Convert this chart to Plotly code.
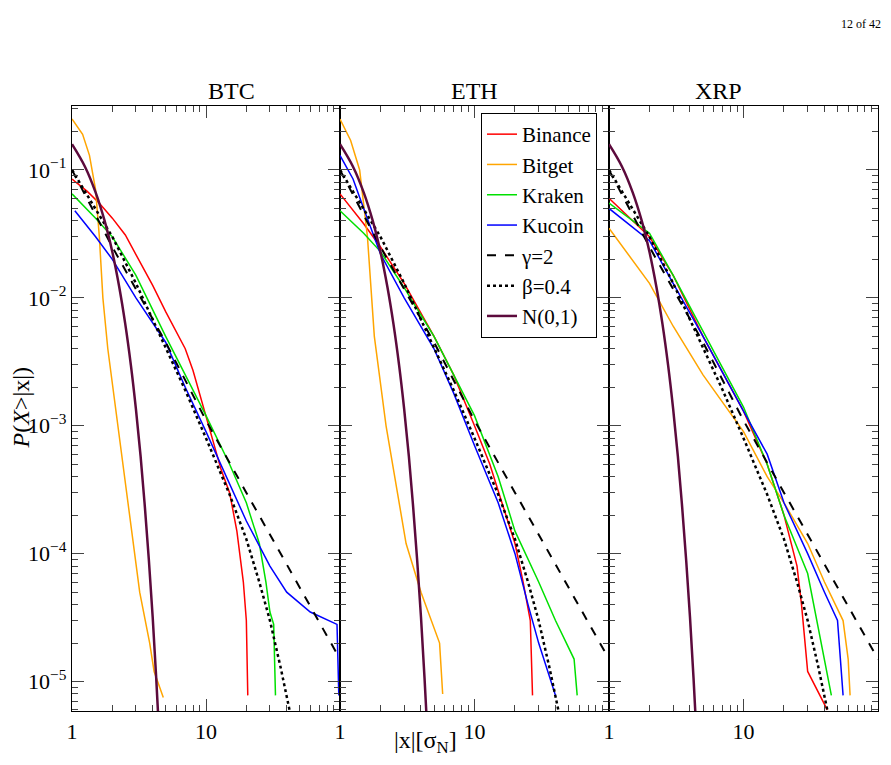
import plotly.graph_objects as go

# ---- data ----
norm_x = [1, 1.25, 1.5, 1.75, 2, 2.25, 2.5, 2.75, 3, 3.25, 3.5, 3.75, 4, 4.25, 4.5]
norm_y = [0.159, 0.106, 0.0668, 0.0401, 0.0228, 0.0122, 0.0062, 0.00298, 0.00135, 5.8e-4, 2.3e-4, 8.8e-5, 3.2e-5, 1.07e-5, 3.4e-6]
gam_x = [1, 2, 5, 10, 20, 50, 100]
gam_y = [0.1, 0.025, 0.0045, 0.0011, 3e-4, 5.5e-5, 1.5e-5]
beta_x = [1, 1.5, 2, 3, 5, 7, 10, 15, 20, 25, 30, 36, 42]
beta_y = [0.1, 0.05, 0.03, 0.013, 0.004, 0.0019, 8e-4, 2.9e-4, 1.3e-4, 6e-5, 3e-5, 1.3e-5, 6e-6]

btc_binance_x = [1, 1.3, 1.6, 2, 2.5, 3, 4, 5, 6, 7, 8, 10, 12, 13, 15, 17, 19, 20, 20.5]
btc_binance_y = [0.085, 0.068, 0.055, 0.042, 0.031, 0.022, 0.0125, 0.0078, 0.0054, 0.004, 0.0027, 0.0012, 6e-4, 4.5e-4, 3e-4, 1.5e-4, 6e-5, 3e-5, 7.8e-6]
btc_bitget_x = [1, 1.2, 1.35, 1.5, 1.6, 1.7, 1.85, 2.2, 2.7, 3.2, 3.8, 4.1, 4.8]
btc_bitget_y = [0.25, 0.19, 0.13, 0.07, 0.03, 0.01, 0.004, 1e-3, 2e-4, 5e-5, 2e-5, 1.2e-5, 7.5e-6]
btc_kraken_x = [1, 1.5, 2, 3, 5, 7, 10, 15, 20, 25, 28, 30, 32, 33]
btc_kraken_y = [0.065, 0.042, 0.03, 0.015, 0.005, 0.0025, 0.0012, 5e-4, 2.5e-4, 1.2e-4, 6e-5, 3.5e-5, 2.8e-5, 7.8e-6]
btc_kucoin_x = [1.05, 1.5, 2, 3, 5, 7, 10, 15, 20, 30, 40, 60, 95, 98]
btc_kucoin_y = [0.048, 0.03, 0.02, 0.01, 0.0045, 0.002, 9e-4, 3.5e-4, 1.8e-4, 8e-5, 5e-5, 3.5e-5, 2.8e-5, 7.8e-6]

eth_binance_x = [1, 1.5, 2, 3, 5, 7, 10, 13, 16, 20, 23, 26, 27]
eth_binance_y = [0.065, 0.038, 0.025, 0.013, 0.005, 0.0025, 0.001, 5e-4, 2.5e-4, 1.2e-4, 6e-5, 3e-5, 7.8e-6]
eth_bitget_x = [1, 1.2, 1.4, 1.6, 1.8, 2.2, 3.1, 4, 5.5, 5.8]
eth_bitget_y = [0.25, 0.17, 0.1, 0.03, 0.005, 1e-3, 1.2e-4, 5e-5, 2e-5, 8e-6]
eth_kraken_x = [1, 1.5, 2, 3, 5, 7, 10, 15, 20, 30, 40, 55, 58]
eth_kraken_y = [0.048, 0.032, 0.023, 0.012, 0.005, 0.0025, 0.0012, 4e-4, 1.5e-4, 6e-5, 3e-5, 1.5e-5, 7.8e-6]
eth_kucoin_x = [1, 1.25, 1.5, 2, 3, 5, 7, 10, 15, 20, 25, 30, 40]
eth_kucoin_y = [0.13, 0.085, 0.05, 0.022, 0.01, 0.004, 0.0018, 7e-4, 2.5e-4, 1e-4, 4e-5, 2e-5, 7.8e-6]

xrp_binance_x = [1, 2, 3, 5, 10, 15, 20, 25, 27, 30, 42]
xrp_binance_y = [0.06, 0.03, 0.015, 0.005, 0.0013, 5e-4, 2e-4, 8e-5, 4e-5, 1.2e-5, 6e-6]
xrp_bitget_x = [1, 2, 3, 5, 10, 15, 20, 30, 40, 55, 60, 62]
xrp_bitget_y = [0.035, 0.013, 0.006, 0.0025, 9e-4, 4e-4, 2.5e-4, 1.2e-4, 6e-5, 3e-5, 1.5e-5, 7.8e-6]
xrp_kraken_x = [1, 2, 3, 5, 10, 15, 20, 30, 35, 40, 45]
xrp_kraken_y = [0.055, 0.032, 0.015, 0.0055, 0.0014, 5e-4, 2e-4, 7e-5, 3e-5, 1.5e-5, 7.8e-6]
xrp_kucoin_x = [1, 2, 3, 5, 10, 15, 20, 30, 40, 50, 55]
xrp_kucoin_y = [0.05, 0.028, 0.013, 0.005, 0.0013, 6e-4, 2.5e-4, 1e-4, 5e-5, 3e-5, 7.8e-6]

titles = ["BTC", "ETH", "XRP"]
ytick_vals = [1e-1, 1e-2, 1e-3, 1e-4, 1e-5]
ytick_text = ["10<sup>−1</sup>", "10<sup>−2</sup>", "10<sup>−3</sup>", "10<sup>−4</sup>", "10<sup>−5</sup>"]
y_minor = [m * 10.0**e for e in range(-6, 0) for m in range(2, 10)]
x_minor = [2, 3, 4, 5, 6, 7, 8, 9, 20, 30, 40, 50, 60, 70, 80, 90]

panels = [
    (btc_binance_x, btc_binance_y, btc_bitget_x, btc_bitget_y, btc_kraken_x, btc_kraken_y, btc_kucoin_x, btc_kucoin_y),
    (eth_binance_x, eth_binance_y, eth_bitget_x, eth_bitget_y, eth_kraken_x, eth_kraken_y, eth_kucoin_x, eth_kucoin_y),
    (xrp_binance_x, xrp_binance_y, xrp_bitget_x, xrp_bitget_y, xrp_kraken_x, xrp_kraken_y, xrp_kucoin_x, xrp_kucoin_y),
]

FONT = "Liberation Serif"
L, R, T, B = 72, 13, 106, 54
PW, PH = 891 - L - R, 765 - T - B
def px(x): return (x - L) / PW
def py(y): return 1 - (y - T) / PH

fig = go.Figure()
doms = [(0, px(340)), (px(340), px(609)), (px(609), 1)]

for i, p in enumerate(panels):
    xa = "x" if i == 0 else f"x{i+1}"
    ya = "y" if i == 0 else f"y{i+1}"
    sl = (i == 1)
    series = [
        ("Binance", p[0], p[1], dict(color="red", width=1.5)),
        ("Bitget", p[2], p[3], dict(color="orange", width=1.5)),
        ("Kraken", p[4], p[5], dict(color="#00e000", width=1.5)),
        ("Kucoin", p[6], p[7], dict(color="blue", width=1.5)),
        ("γ=2", gam_x, gam_y, dict(color="black", width=2, dash="dash")),
        ("β=0.4", beta_x, beta_y, dict(color="black", width=2.5, dash="dot")),
        ("N(0,1)", norm_x, norm_y, dict(color="#5c0a3c", width=2.5, shape="spline")),
    ]
    for name, x, y, ln in series:
        fig.add_trace(go.Scatter(x=x, y=y, mode="lines", name=name, line=ln,
                                 showlegend=sl, xaxis=xa, yaxis=ya))
    axkey = "xaxis" if i == 0 else f"xaxis{i+1}"
    aykey = "yaxis" if i == 0 else f"yaxis{i+1}"
    fig.layout[axkey] = dict(type="log", range=[0, 2], domain=doms[i], anchor=ya, automargin=False,
                             tickvals=[1, 10], ticktext=["1", "10"], ticks="inside", ticklen=12,
                             mirror="allticks", showline=True, linecolor="black", linewidth=1.2,
                             showgrid=False, zeroline=False,
                             minor=dict(ticks="inside", ticklen=6, tickvals=x_minor, showgrid=False),
                             tickfont=dict(family=FONT, size=22, color="black"))
    fig.layout[aykey] = dict(type="log", range=[-5.23, -0.5], domain=[0, 1], anchor=xa, automargin=False,
                             tickvals=ytick_vals, ticktext=ytick_text if i == 0 else [""]*5,
                             ticks="inside", ticklen=12, mirror="allticks", showline=True,
                             linecolor="black", linewidth=1.2, showgrid=False, zeroline=False,
                             minor=dict(ticks="inside", ticklen=6, tickvals=y_minor, showgrid=False),
                             tickfont=dict(family=FONT, size=22, color="black"))
    fig.add_annotation(text=titles[i], x=(doms[i][0]+doms[i][1])/2, y=1, xref="paper", yref="paper",
                       yanchor="bottom", showarrow=False, font=dict(family=FONT, size=24, color="black"))

fig.update_layout(
    width=891, height=765, margin=dict(l=L, r=R, t=T, b=B),
    paper_bgcolor="white", plot_bgcolor="white",
    legend=dict(x=px(597), xanchor="right", y=py(113), yanchor="top",
                bordercolor="black", borderwidth=1, bgcolor="white",
                font=dict(family=FONT, size=21, color="black"), tracegroupgap=0),
)
fig.add_annotation(text="<i>P</i>(<i>X</i>>|x|)", x=px(20), y=0.5, xref="paper", yref="paper",
                   xanchor="center", yanchor="middle",
                   textangle=-90, showarrow=False, font=dict(family=FONT, size=24, color="black"))
fig.add_annotation(text="|x|[σ<sub>N</sub>]", x=px(425), y=py(742), xref="paper", yref="paper",
                   xanchor="center", yanchor="middle", showarrow=False, font=dict(family=FONT, size=24, color="black"))
fig.add_annotation(text="12 of 42", x=px(883), y=py(15), xref="paper", yref="paper", xanchor="right",
                   showarrow=False, font=dict(family=FONT, size=12, color="black"))
fig.write_html("out.html", config={"displayModeBar": False},
               post_script="document.body.style.margin='0';document.body.style.overflow='hidden';")
